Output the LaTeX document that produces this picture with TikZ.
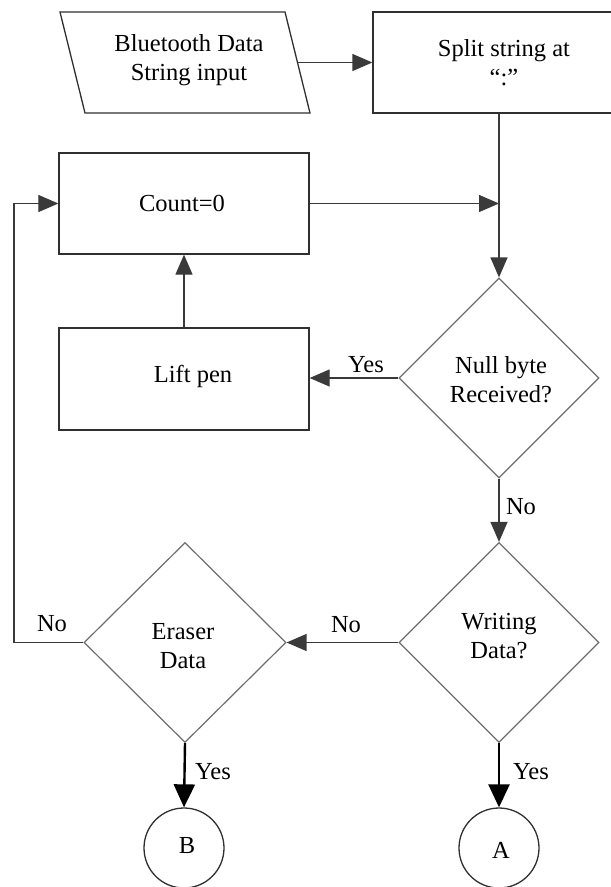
\documentclass[tikz,border=0pt]{standalone}
\usepackage{fontspec}
\setmainfont{Liberation Serif}
\usetikzlibrary{shapes.geometric,arrows.meta}
\definecolor{boxline}{HTML}{303030}
\definecolor{dialine}{HTML}{6E6E6E}
\definecolor{conn}{HTML}{3A3A3A}
\tikzset{
  every node/.style={font=\fontsize{24.5bp}{29bp}\selectfont, inner sep=0pt},
  procbox/.style={draw=boxline, line width=1.3bp, rectangle, align=center},
  ioline/.style={draw=boxline, line width=1.3bp, line join=miter},
  decision/.style={draw=dialine, line width=1.2bp, diamond, minimum width=200bp, minimum height=200bp},
  connector/.style={draw=boxline, line width=1.3bp, circle, minimum size=80bp},
  txt/.style={align=center},
  arr/.style={draw=conn, line width=1.3bp, -{Triangle[length=20bp,width=17bp]}},
  thickarr/.style={draw=black, line width=2.4bp, -{Triangle[length=23bp,width=21bp]}},
}
\begin{document}
\begin{tikzpicture}[x=1bp,y=-1bp]
\clip (0,0) rectangle (611,887);
\fill[white] (0,0) rectangle (611,887);

% input parallelogram
\coordinate (btnw) at (60,12);
\coordinate (btne) at (285,12);
\coordinate (btse) at (310,113);
\coordinate (btsw) at (85,113);
\draw[ioline] (btnw) -- (btne) -- (btse) -- (btsw) -- cycle;
\coordinate (bteast) at (297.5,62.5);
\node[txt] (bt) at (189,60) {Bluetooth Data\\String input};

% nodes
\node[procbox, minimum width=257bp, minimum height=101bp] (split) at (501.5,62.5) {};
\node[txt] (splitt) at (504,63) {Split string at\\“:”};
\node[procbox, minimum width=250bp, minimum height=101bp] (count) at (184,203.5) {};
\node[txt] (countt) at (182,203) {Count=0};
\node[procbox, minimum width=250bp, minimum height=102bp] (lift) at (184,379) {};
\node[txt] (liftt) at (193,376) {Lift pen};
\node[decision] (nb) at (499,378) {};
\node[txt] (nbt) at (501,380) {Null byte\\Received?};
\node[decision] (wd) at (499,642.5) {};
\node[txt] (wdt) at (499,636) {Writing\\Data?};
\node[decision, minimum width=202bp] (er) at (185,642.5) {};
\node[txt] (ert) at (183,646) {Eraser\\Data};
\node[connector] (B) at (184,848) {};
\node[txt] (Bt) at (187,846) {B};
\node[connector] (A) at (499,848) {};
\node[txt] (At) at (501,850) {A};

% connectors
\draw[arr] (bteast) -- (split.west |- bteast);
\draw[arr] (split.south -| nb.north) -- (nb.north);
\draw[arr] (count.east) -- (count.east -| nb.north);
\draw[arr] (lift.north) -- (count.south);
\draw[arr] (nb.west) -- (lift.east |- nb.west);
\draw[arr] (nb.south) -- (wd.north);
\draw[arr] (wd.west) -- (er.east);
\coordinate (loopc) at (14,642.5);
\draw[arr] (er.west) -- (loopc) |- (count.west);
\draw[thickarr] (er.south) -- (B.north);
\draw[thickarr] (wd.south) -- (A.north);

% labels
\node (yes1) at (366,365) {Yes};
\node (no1) at (521,507) {No};
\node (no2) at (346,625) {No};
\node (no3) at (52,624) {No};
\node (yes2) at (213,772) {Yes};
\node (yes3) at (531,772) {Yes};
\end{tikzpicture}
\end{document}
